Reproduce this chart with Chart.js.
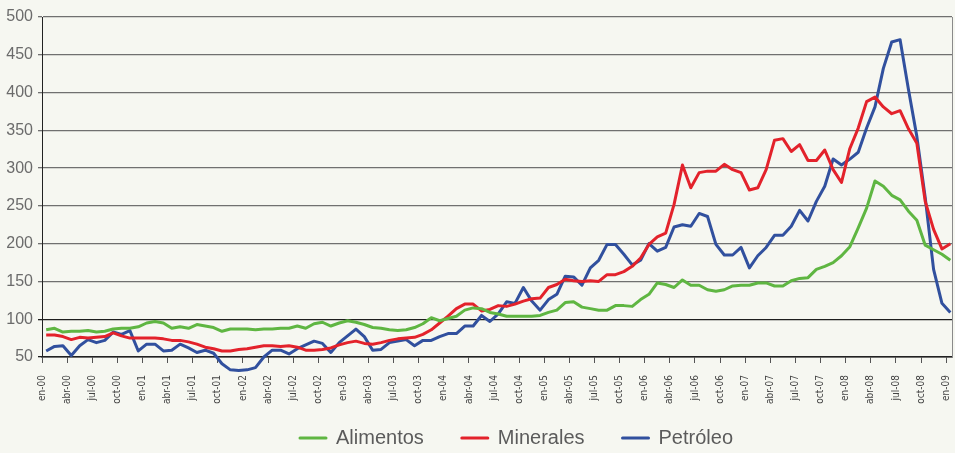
<!DOCTYPE html>
<html>
<head>
<meta charset="utf-8">
<script src="https://cdn.jsdelivr.net/npm/chart.js@4.4.1/dist/chart.umd.min.js"></script>
<style>
  html, body { margin: 0; padding: 0; background: #f6f7f1; }
</style>
</head>
<body>
<canvas id="pricesChart" width="955" height="453"></canvas>
<script>
// Tick labels, every 3 months (en-00 ... en-09)
const tickLabels = [
  "en-00", "abr-00", "jul-00", "oct-00",
  "en-01", "abr-01", "jul-01", "oct-01",
  "en-02", "abr-02", "jul-02", "oct-02",
  "en-03", "abr-03", "jul-03", "oct-03",
  "en-04", "abr-04", "jul-04", "oct-04",
  "en-05", "abr-05", "jul-05", "oct-05",
  "en-06", "abr-06", "jul-06", "oct-06",
  "en-07", "abr-07", "jul-07", "oct-07",
  "en-08", "abr-08", "jul-08", "oct-08",
  "en-09",
];

// Monthly index values, en-00 to en-09
const alimentos = [
  86, 88, 83, 84, 84, 85, 83, 84, 87, 88, 88, 90,
  95, 97, 95, 88, 90, 88, 93, 91, 89, 84, 87, 87,
  87, 86, 87, 87, 88, 88, 91, 88, 94, 96, 91, 95,
  98, 96, 93, 89, 88, 86, 85, 86, 89, 94, 102, 98,
  101, 104, 112, 115, 114, 109, 107, 104, 104, 104, 104, 105,
  109, 112, 122, 123, 116, 114, 112, 112, 118, 118, 117, 126,
  133, 148, 146, 142, 152, 145, 145, 139, 137, 139, 144, 145,
  145, 148, 148, 144, 144, 151, 154, 155, 166, 170, 175, 184,
  196, 221, 247, 283, 276, 264, 258, 243, 231, 198, 192, 186,
  178,
];

const minerales = [
  79, 79, 77, 73, 76, 75, 76, 77, 82, 78, 75, 75,
  75, 75, 74, 72, 72, 70, 67, 63, 61, 58, 58, 60,
  61, 63, 65, 65, 64, 65, 63, 59, 59, 60, 62, 66,
  69, 71, 68, 67, 69, 72, 74, 75, 76, 80, 86, 95,
  104, 114, 120, 120, 111, 113, 118, 117, 120, 124, 127, 128,
  142, 146, 153, 151, 150, 151, 150, 159, 159, 163, 170, 181,
  199, 209, 214, 252, 304, 274, 294, 296, 296, 305, 298, 294,
  271, 274, 298, 337, 339, 322, 331, 310, 310, 324, 298, 281,
  326, 353, 388, 394, 381, 372, 376, 352, 333, 256, 219, 193,
  200,
];

const petroleo = [
  58, 64, 65, 52, 65, 73, 69, 72, 83, 80, 85, 58,
  67, 67, 58, 59, 67, 62, 56, 59, 55, 41, 33, 32,
  33, 36, 50, 59, 59, 54, 61, 66, 71, 68, 56, 69,
  78, 87, 77, 59, 60, 69, 71, 73, 65, 72, 72, 77,
  81, 81, 91, 91, 105, 97, 107, 123, 121, 142, 124, 112,
  126, 133, 157, 156, 145, 168, 178, 199, 199, 186, 172, 178,
  200, 190, 195, 222, 225, 223, 240, 236, 199, 185, 185, 195,
  168, 184, 195, 211, 211, 223, 244, 230, 256, 276, 312, 304,
  312, 321, 353, 381, 432, 467, 470, 404, 342, 261, 166, 121,
  109,
];

// each month is drawn in the middle of its slot, ticks sit on the slot edges
function toPoints(values) {
  return values.map((v, i) => ({ x: i + 0.5, y: v }));
}

function series(label, values, color) {
  return {
    label: label,
    data: toPoints(values),
    borderColor: color,
    backgroundColor: color,
    borderWidth: 3,
    borderJoinStyle: "round",
    pointRadius: 0,
    tension: 0,
    clip: false,
  };
}

// move the legend a bit right and down, and let the x labels reach below the axis box
const layoutNudge = {
  id: "layoutNudge",
  afterLayout(chart) {
    const lg = chart.legend;
    lg.left += 39;
    lg.right += 39;
    lg.top = 390;
    const xs = chart.scales.x;
    xs.bottom = xs.top + 60;
  },
};

const tickFont = { family: "Liberation Sans", size: 16 };

new Chart(document.getElementById("pricesChart"), {
  type: "line",
  data: {
    datasets: [
      series("Alimentos", alimentos, "#5fb642"),
      series("Minerales", minerales, "#e3222b"),
      series("Petróleo", petroleo, "#31509e"),
    ],
  },
  options: {
    responsive: false,
    animation: false,
    layout: { padding: { top: 17, left: 0, right: 0, bottom: 0 } },
    scales: {
      x: {
        type: "linear",
        min: 0,
        max: 108.7,
        // one tick every 3 months, one per label
        afterBuildTicks: (scale) => {
          scale.ticks = tickLabels.map((_, k) => ({ value: k * 3 }));
        },
        afterFit: (scale) => {
          scale.height = 28;
          scale.paddingLeft = 0;
          scale.paddingRight = 0;
        },
        ticks: {
          autoSkip: false,
          minRotation: 90,
          maxRotation: 90,
          padding: 12,
          color: "#444",
          font: { family: "'Liberation Sans Narrow', 'DejaVu Sans Condensed', sans-serif", size: 10 },
          callback: (value) => tickLabels[value / 3],
        },
        grid: { drawOnChartArea: false, tickLength: 6, color: "#555", lineWidth: 1 },
        border: { color: "#222", width: 1.5 },
      },
      y: {
        min: 50,
        max: 500,
        afterFit: (scale) => {
          scale.width = 42;
        },
        ticks: { stepSize: 50, padding: 5, color: "#6b6b6b", font: tickFont },
        grid: {
          color: (ctx) => {
            const v = ctx.tick ? ctx.tick.value : 0;
            if (v === 100 || v === 50) return "#1e1e1e";
            return "#707070";
          },
          lineWidth: 1.3,
          tickLength: 4,
        },
        border: { color: "#222", width: 1 },
      },
      // thin frame line on the right side
      y2: {
        position: "right",
        min: 50,
        max: 500,
        afterFit: (scale) => {
          scale.width = 3;
        },
        ticks: { display: false },
        grid: { drawOnChartArea: false, drawTicks: false },
        border: { color: "#8a8a8a", width: 1 },
      },
    },
    plugins: {
      tooltip: { enabled: false },
      legend: {
        position: "bottom",
        labels: {
          boxWidth: 26,
          boxHeight: 0,
          padding: 38,
          color: "#5b5b5b",
          font: { family: "Liberation Sans", size: 20 },
        },
      },
    },
  },
  plugins: [layoutNudge],
});
</script>
</body>
</html>
